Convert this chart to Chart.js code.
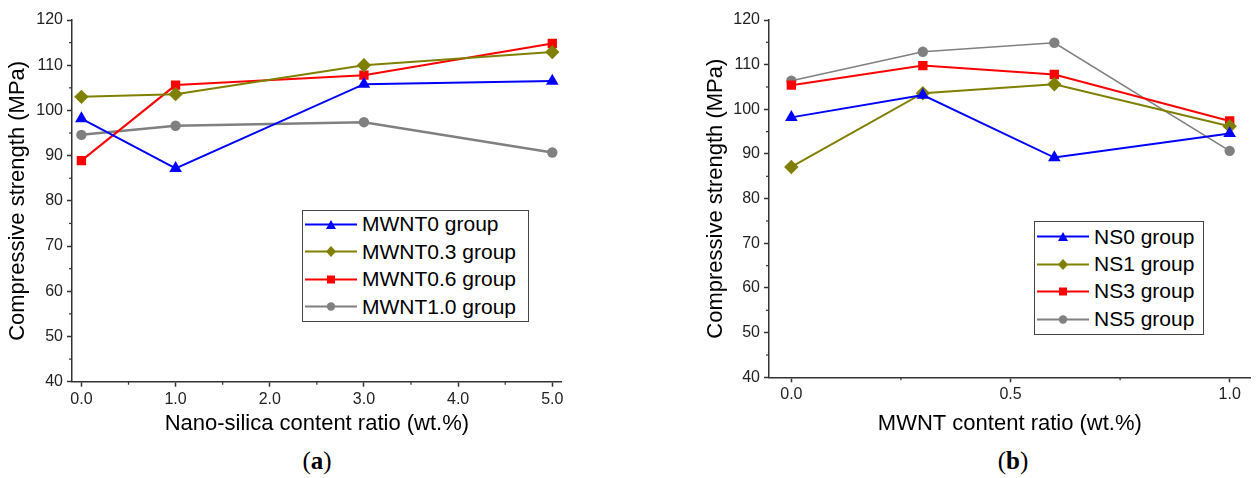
<!DOCTYPE html>
<html>
<head>
<meta charset="utf-8">
<script src="https://cdn.jsdelivr.net/npm/chart.js@4.4.0/dist/chart.umd.min.js"></script>
<style>
  body { margin: 0; background: #fff; width: 1258px; height: 478px; position: relative; overflow: hidden; font-family: "Liberation Sans", Arial, sans-serif; }
  .box { position: absolute; top: 0; height: 440px; }
  .legend { position: absolute; border: 1.5px solid #444; background: #fff; box-sizing: border-box; }
  .row { position: absolute; left: 0; height: 26px; display: flex; align-items: center; font-size: 21px; color: #000; white-space: nowrap; }
  .row svg { margin-right: 5px; }
  .cap { position: absolute; top: 447px; font-family: "Liberation Serif", "Times New Roman", serif; font-size: 25px; transform: translateX(-50%); }
</style>
</head>
<body>
<div class="box" style="left:0;width:575px"><canvas id="chartA"></canvas></div>
<div class="box" style="left:690px;width:568px"><canvas id="chartB"></canvas></div>
<div class="legend" id="legA" style="left:302px;top:210px;width:227px;height:112px"></div>
<div class="legend" id="legB" style="left:1034px;top:221px;width:170px;height:114px"></div>
<div class="cap" style="left:317px">(<b>a</b>)</div>
<div class="cap" style="left:1013px">(<b>b</b>)</div>
<script>
// data
const nsContent = [0, 1, 3, 5];
const mwntContent = [0, 0.3, 0.6, 1.0];
const xTicksA = [0, 1, 2, 3, 4, 5];
const xMinorA = [0.5, 1.5, 2.5, 3.5, 4.5];
const xTicksB = [0, 0.5, 1.0];
const xMinorB = [0.25, 0.75];
const yTicks = [40, 50, 60, 70, 80, 90, 100, 110, 120];
const yMinor = [45, 55, 65, 75, 85, 95, 105, 115];

const mwnt0 = [98.2, 87.2, 105.8, 106.5];
const mwnt03 = [103.0, 103.6, 110.0, 112.9];
const mwnt06 = [88.9, 105.6, 107.8, 114.8];
const mwnt10 = [94.6, 96.6, 97.4, 90.7];

const ns0 = [98.2, 103.2, 89.2, 94.6];
const ns1 = [87.1, 103.6, 105.6, 96.2];
const ns3 = [105.4, 109.8, 107.8, 97.4];
const ns5 = [106.4, 112.9, 114.9, 90.7];

const labelsA = ["MWNT0 group", "MWNT0.3 group", "MWNT0.6 group", "MWNT1.0 group"];
const labelsB = ["NS0 group", "NS1 group", "NS3 group", "NS5 group"];

const colors = ["#0000ff", "#808000", "#ff0000", "#808080"];
const shapes = ["triangle", "rectRot", "rect", "circle"];
const radii = [7.3, 7.2, 6.6, 5.2];

const FONT = "'Liberation Sans', Arial, sans-serif";

// short minor ticks, placed through the scales
const minorTicks = {
  id: "minorTicks",
  afterDraw(chart, args, opts) {
    const ctx = chart.ctx;
    const x = chart.scales.x;
    const y = chart.scales.y;
    ctx.save();
    ctx.strokeStyle = "#333";
    ctx.lineWidth = 1.2;
    opts.x.forEach((v) => {
      const px = x.getPixelForValue(v);
      ctx.beginPath();
      ctx.moveTo(px, x.top);
      ctx.lineTo(px, x.top + 3);
      ctx.stroke();
    });
    opts.y.forEach((v) => {
      const py = y.getPixelForValue(v);
      ctx.beginPath();
      ctx.moveTo(y.right, py);
      ctx.lineTo(y.right - 3, py);
      ctx.stroke();
    });
    ctx.restore();
  },
};

const makeChart = (id, xs, series, labels, widths, cfg) => {
  new Chart(document.getElementById(id), {
    type: "line",
    data: {
      datasets: series.map((s, i) => ({
        label: labels[i],
        data: xs.map((x, j) => ({ x: x, y: s[j] })),
        borderColor: colors[i],
        backgroundColor: colors[i],
        borderWidth: widths[i],
        pointStyle: shapes[i],
        pointRadius: radii[i],
        pointBorderWidth: 0,
        tension: 0,
      })),
    },
    options: {
      responsive: true,
      maintainAspectRatio: false,
      animation: false,
      layout: { padding: { top: 20, right: cfg.padRight, left: 0, bottom: 0 } },
      plugins: {
        legend: { display: false },
        tooltip: { enabled: false },
        minorTicks: { x: cfg.xMinor, y: yMinor },
      },
      scales: {
        x: {
          type: "linear",
          min: cfg.xMin,
          max: cfg.xMax,
          afterBuildTicks: (s) => {
            s.ticks = cfg.xTicks.map((v) => ({ value: v }));
          },
          afterFit: (s) => {
            s.height = cfg.xHeight;
          },
          border: { color: "#333", width: 1.5 },
          grid: { drawOnChartArea: false, tickLength: 5, tickColor: "#333", tickWidth: 1.5 },
          ticks: {
            color: "#222",
            padding: 3,
            maxRotation: 0,
            autoSkip: false,
            font: { family: FONT, size: 16 },
            callback: (v) => Number(v).toFixed(1),
          },
          title: {
            display: true,
            text: cfg.xTitle,
            color: "#000",
            font: { family: FONT, size: 22 },
            padding: { top: 0, bottom: 3 },
          },
        },
        y: {
          min: 40,
          max: 120,
          afterBuildTicks: (s) => {
            s.ticks = yTicks.map((v) => ({ value: v }));
          },
          afterFit: (s) => {
            s.width = cfg.yWidth;
          },
          border: { color: "#333", width: 1.5 },
          grid: { drawOnChartArea: false, tickLength: 5, tickColor: "#333", tickWidth: 1.5 },
          ticks: { color: "#222", padding: 4, font: { family: FONT, size: 16 } },
          title: {
            display: true,
            text: "Compressive strength (MPa)",
            color: "#000",
            font: { family: FONT, size: 22 },
            padding: { top: cfg.yTitlePad, bottom: 0 },
          },
        },
      },
    },
    plugins: [minorTicks],
  });
};

makeChart("chartA", nsContent, [mwnt0, mwnt03, mwnt06, mwnt10], labelsA, [2, 2, 2, 2.5], {
  xMin: -0.1, xMax: 5.1, xTicks: xTicksA, xMinor: xMinorA,
  xTitle: "Nano-silica content ratio (wt.%)",
  yWidth: 72, xHeight: 58.3, padRight: 13.3, yTitlePad: 4.8,
});

makeChart("chartB", mwntContent, [ns0, ns1, ns3, ns5], labelsB, [2, 2, 2, 1.6], {
  xMin: -0.051, xMax: 1.048, xTicks: xTicksB, xMinor: xMinorB,
  xTitle: "MWNT content ratio (wt.%)",
  yWidth: 79, xHeight: 62.7, padRight: 1, yTitlePad: 12.8,
});

// legend rows with line + marker
const markerSvg = (i) => {
  const c = colors[i];
  let m = "";
  if (shapes[i] == "triangle") m = `<polygon points="26,4 31,13 21,13" fill="${c}"/>`;
  else if (shapes[i] == "rectRot") m = `<polygon points="26,3 31,8.5 26,14 21,8.5" fill="${c}"/>`;
  else if (shapes[i] == "rect") m = `<rect x="22" y="4.5" width="8" height="8" fill="${c}"/>`;
  else m = `<circle cx="26" cy="8.5" r="4.2" fill="${c}"/>`;
  return `<svg width="52" height="17"><line x1="0" y1="8.5" x2="52" y2="8.5" stroke="${c}" stroke-width="2"/>${m}</svg>`;
};

const makeLegend = (id, labels, rowTops) => {
  const el = document.getElementById(id);
  labels.forEach((lab, i) => {
    const row = document.createElement("div");
    row.className = "row";
    row.style.top = rowTops[i] + "px";
    row.style.left = "2px";
    row.innerHTML = markerSvg(i) + "<span>" + lab + "</span>";
    el.appendChild(row);
  });
};

makeLegend("legA", labelsA, [0, 27.5, 55, 82.5]);
makeLegend("legB", labelsB, [1.5, 29, 56, 84]);
</script>
</body>
</html>
